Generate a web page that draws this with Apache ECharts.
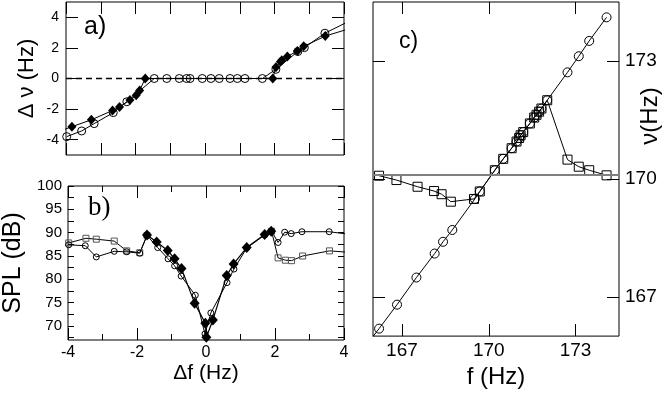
<!DOCTYPE html>
<html>
<head>
<meta charset="utf-8">
<script src="https://cdn.jsdelivr.net/npm/echarts@6.0.0/dist/echarts.min.js"></script>
<style>
html,body{margin:0;padding:0;background:#fff;}
#chart{width:664px;height:394px;}
</style>
</head>
<body>
<div id="chart"></div>
<script>
// ---- Panel a: frequency shift vs detuning ----
var aCircDf = [-3.98,-3.55,-3.19,-2.64,-2.25,-1.46,-1.10,-0.74,-0.53,-0.43,-0.08,0.17,0.41,0.72,0.93,1.15,1.65,2.04,2.67,2.86,3.45,4.30];
var aCircDv = [-3.80,-3.43,-2.95,-2.23,-1.52,0,0,0,0,0,0,0,0,0,0,0,0,0.60,1.76,2.02,2.96,3.92];
var aDiaDf  = [-4.20,-3.83,-3.27,-2.66,-2.46,-2.16,-1.98,-1.88,-1.72,1.95,2.04,2.17,2.21,2.37,2.66,2.84,3.46,4.30];
var aDiaDv  = [-3.45,-3.15,-2.70,-2.09,-1.86,-1.41,-1.09,-0.78,0,0,0.74,1.10,1.19,1.44,1.80,2.10,2.77,3.36];
var aTicks  = [-4,-2,0,2,4];

// ---- Panel b: SPL vs detuning ----
var bSqDf    = [-3.98,-3.48,-3.18,-2.66,-2.30,-1.92,-1.71,0,1.90,2.09,2.30,2.48,2.80,3.58,4.30];
var bSqSpl   = [87.8,88.8,88.6,88.2,86.1,85.7,89.4,null,90.3,84.6,84.1,84.0,85.0,86.1,85.7];
var bCircDf  = [-3.98,-3.50,-3.18,-2.66,-2.30,-1.92,-1.71,-1.40,-1.10,-0.91,-0.72,-0.31,-0.03,0.14,0.61,0.81,1.18,1.70,1.90,2.09,2.28,2.47,2.78,3.57,4.30];
var bCircSpl = [87.4,87.2,84.8,86.0,85.9,85.6,89.4,86.8,84.4,82.9,80.7,76.6,68.3,72.8,79.3,82.2,86.7,89.5,90.3,87.9,90.1,89.8,90.2,90.2,89.5];
var bDiaDf   = [-1.71,-1.43,-1.11,-0.91,-0.71,-0.33,-0.02,0.01,0.20,0.60,0.80,1.18,1.70,1.89];
var bDiaSpl  = [89.5,88.0,86.2,84.4,82.3,74.9,70.6,67.6,71.3,80.8,83.3,86.8,89.6,90.3];
var bLabelTicks = [70,75,80,85,90,95,100];
var bMinorTicks = [67.5,70,72.5,75,77.5,80,82.5,85,87.5,90,92.5,95,97.5,100];

// ---- Panel c: mode frequency vs drive frequency ----
var cCircF  = [165.8,166.21,166.83,167.50,168.13,168.42,168.74,169.52,169.69,170.21,170.50,170.79,170.96,171.05,171.10,171.19,171.42,171.57,171.65,171.74,171.82,172.02,172.72,173.11,173.47,174.07];
var cCircNu = [165.8,166.19,166.80,167.49,168.10,168.40,168.70,169.49,169.68,170.22,170.51,170.78,170.95,171.04,171.11,171.19,171.41,171.56,171.63,171.71,171.79,172.00,172.71,173.12,173.51,174.11];
var cSqF    = [166.21,166.81,167.54,168.11,168.37,168.69,169.49,169.69,170.21,170.50,170.79,170.96,171.05,171.10,171.19,171.42,171.57,171.65,171.74,171.82,172.02,172.72,173.11,173.47,174.07];
var cSqNu   = [170.08,169.97,169.80,169.69,169.61,169.42,169.49,169.68,170.22,170.51,170.78,170.95,171.04,171.11,171.19,171.41,171.56,171.63,171.71,171.79,172.00,170.49,170.31,170.22,170.09];
var cRefNu  = 170.1;
var cTicks  = [167,170,173];

function zip(xs, ys){
  return xs.map(function(x,i){ return [x, ys[i] == null ? '-' : ys[i]]; });
}

var FONT = '"Liberation Sans", Arial, sans-serif';
var SERIF = '"Liberation Serif", "Times New Roman", serif';
var BLK = '#000';

function tickAxis(extra){
  var base = {
    type:'value', axisLine:{show:false, onZero:false}, splitLine:{show:false},
    axisTick:{show:true, inside:true, length:12, lineStyle:{color:BLK, width:1}},
    axisLabel:{show:false}
  };
  for (var k in extra) base[k] = extra[k];
  return base;
}

var openItem = function(c){ return {color:'rgba(0,0,0,0)', borderColor:c, borderWidth:1}; };

var chart = echarts.init(document.getElementById('chart'), null, {renderer:'canvas'});
var option = {
  animation:false,
  backgroundColor:'#fff',
  textStyle:{fontFamily:FONT},
  grid:[
    {left:66, top:2, width:278, height:153, show:true, borderColor:BLK, borderWidth:1, backgroundColor:'transparent'},
    {left:66, top:186, width:278, height:154, show:true, borderColor:BLK, borderWidth:1, backgroundColor:'transparent'},
    {left:373, top:2, width:246, height:338, show:true, borderColor:BLK, borderWidth:1, backgroundColor:'transparent'}
  ],
  xAxis:[
    tickAxis({gridIndex:0, position:'bottom', min:-4, max:4, interval:1}),
    tickAxis({gridIndex:0, position:'top', min:-4, max:4, interval:1}),
    tickAxis({gridIndex:1, position:'bottom', min:-4, max:4, interval:2,
      minorTick:{show:true, splitNumber:2, length:6, lineStyle:{color:BLK}},
      axisLabel:{show:true, margin:5, color:BLK, fontSize:16, fontFamily:FONT},
      name:'Δf (Hz)', nameLocation:'middle', nameGap:23,
      nameTextStyle:{color:BLK, fontSize:21, fontFamily:FONT}}),
    tickAxis({gridIndex:1, position:'top', min:-4, max:4, interval:2,
      minorTick:{show:true, splitNumber:2, length:6, lineStyle:{color:BLK}}}),
    tickAxis({gridIndex:2, position:'bottom', min:166, max:174.5,
      axisTick:{show:true, inside:true, length:12, customValues:cTicks, lineStyle:{color:BLK}},
      axisLabel:{show:true, margin:5, color:BLK, fontSize:19, fontFamily:FONT, customValues:cTicks},
      name:'f (Hz)', nameLocation:'middle', nameGap:25,
      nameTextStyle:{color:BLK, fontSize:24, fontFamily:FONT}}),
    tickAxis({gridIndex:2, position:'top', min:166, max:174.5,
      axisTick:{show:true, inside:true, length:12, customValues:cTicks, lineStyle:{color:BLK}}})
  ],
  yAxis:[
    tickAxis({gridIndex:0, position:'left', min:-5, max:5,
      axisTick:{show:true, inside:true, length:12, customValues:aTicks, lineStyle:{color:BLK}},
      axisLabel:{show:true, margin:7, color:BLK, fontSize:14, fontFamily:FONT, customValues:aTicks},
      name:'Δ ν (Hz)', nameLocation:'middle', nameGap:28, nameRotate:90,
      nameTextStyle:{color:BLK, fontSize:22, fontFamily:FONT}}),
    tickAxis({gridIndex:0, position:'right', min:-5, max:5,
      axisTick:{show:true, inside:true, length:12, customValues:aTicks, lineStyle:{color:BLK}}}),
    tickAxis({gridIndex:1, position:'left', min:67, max:100,
      axisTick:{show:true, inside:true, length:6, customValues:bMinorTicks, lineStyle:{color:BLK}},
      axisLabel:{show:true, margin:6, color:BLK, fontSize:15, fontFamily:FONT, customValues:bLabelTicks},
      name:'SPL (dB)', nameLocation:'middle', nameGap:42, nameRotate:90,
      nameTextStyle:{color:BLK, fontSize:25, fontFamily:FONT}}),
    tickAxis({gridIndex:1, position:'right', min:67, max:100,
      axisTick:{show:true, inside:true, length:6, customValues:bMinorTicks, lineStyle:{color:BLK}}}),
    tickAxis({gridIndex:2, position:'left', min:166, max:174.5,
      axisTick:{show:true, inside:true, length:12, customValues:cTicks, lineStyle:{color:BLK}}}),
    tickAxis({gridIndex:2, position:'right', min:166, max:174.5,
      axisTick:{show:true, inside:true, length:12, customValues:cTicks, lineStyle:{color:BLK}},
      axisLabel:{show:true, margin:6, color:BLK, fontSize:19, fontFamily:FONT, customValues:cTicks}})
  ],
  series:[
    // panel a
    {type:'line', xAxisIndex:0, yAxisIndex:0, data:zip(aCircDf,aCircDv), clip:true,
     symbol:'circle', symbolSize:8, showAllSymbol:true, itemStyle:openItem(BLK),
     lineStyle:{color:BLK, width:1}, silent:true, z:3,
     markLine:{silent:true, symbol:'none', label:{show:false},
       lineStyle:{color:BLK, width:1.3, type:[6,4]}, data:[{yAxis:0}]}},
    {type:'line', xAxisIndex:0, yAxisIndex:0, data:zip(aDiaDf,aDiaDv), clip:true,
     symbol:'diamond', symbolSize:[9,10], showAllSymbol:true, itemStyle:{color:BLK},
     lineStyle:{color:BLK, width:1}, silent:true, z:4},
    // panel b
    {type:'line', xAxisIndex:2, yAxisIndex:2, data:zip(bSqDf,bSqSpl), clip:true, connectNulls:false,
     symbol:'rect', symbolSize:6, showAllSymbol:true, itemStyle:openItem('#555'),
     lineStyle:{color:BLK, width:1}, silent:true, z:3},
    {type:'line', xAxisIndex:2, yAxisIndex:2, data:zip(bCircDf,bCircSpl), clip:true,
     symbol:'circle', symbolSize:6, showAllSymbol:true, itemStyle:openItem(BLK),
     lineStyle:{color:BLK, width:1}, silent:true, z:3},
    {type:'line', xAxisIndex:2, yAxisIndex:2, data:zip(bDiaDf,bDiaSpl), clip:true,
     symbol:'diamond', symbolSize:[10,11], showAllSymbol:true, itemStyle:{color:BLK},
     lineStyle:{color:BLK, width:1.2}, silent:true, z:4},
    // panel c
    {type:'line', xAxisIndex:4, yAxisIndex:4, data:zip(cSqF,cSqNu), clip:true,
     symbol:'rect', symbolSize:9, showAllSymbol:true, itemStyle:openItem(BLK),
     lineStyle:{color:BLK, width:1}, silent:true, z:3,
     markLine:{silent:true, symbol:'none', label:{show:false},
       lineStyle:{color:'#808080', width:2, type:'solid'}, data:[{yAxis:cRefNu}]}},
    {type:'line', xAxisIndex:4, yAxisIndex:4, data:zip(cCircF,cCircNu), clip:true,
     symbol:'circle', symbolSize:9, showAllSymbol:true, itemStyle:openItem(BLK),
     lineStyle:{color:BLK, width:1}, silent:true, z:3}
  ],
  graphic:[
    {type:'text', left:84, top:15, style:{text:'a)', font:'25px "Liberation Sans", Arial, sans-serif', fontSize:25, fontFamily:FONT, fill:BLK}},
    {type:'text', left:88, top:194, style:{text:'b)', font:'27px "Liberation Serif", serif', fontSize:27, fontFamily:SERIF, fill:BLK}},
    {type:'text', left:399, top:30, style:{text:'c)', font:'23px "Liberation Sans", Arial, sans-serif', fontSize:23, fontFamily:FONT, fill:BLK}},
    {type:'text', x:650, y:116, rotation:Math.PI/2,
     style:{text:'ν(Hz)', font:'24px "Liberation Sans", Arial, sans-serif', fontSize:24, fontFamily:FONT, fill:BLK, align:'center', verticalAlign:'middle'}}
  ]
};
chart.setOption(option);
</script>
</body>
</html>
